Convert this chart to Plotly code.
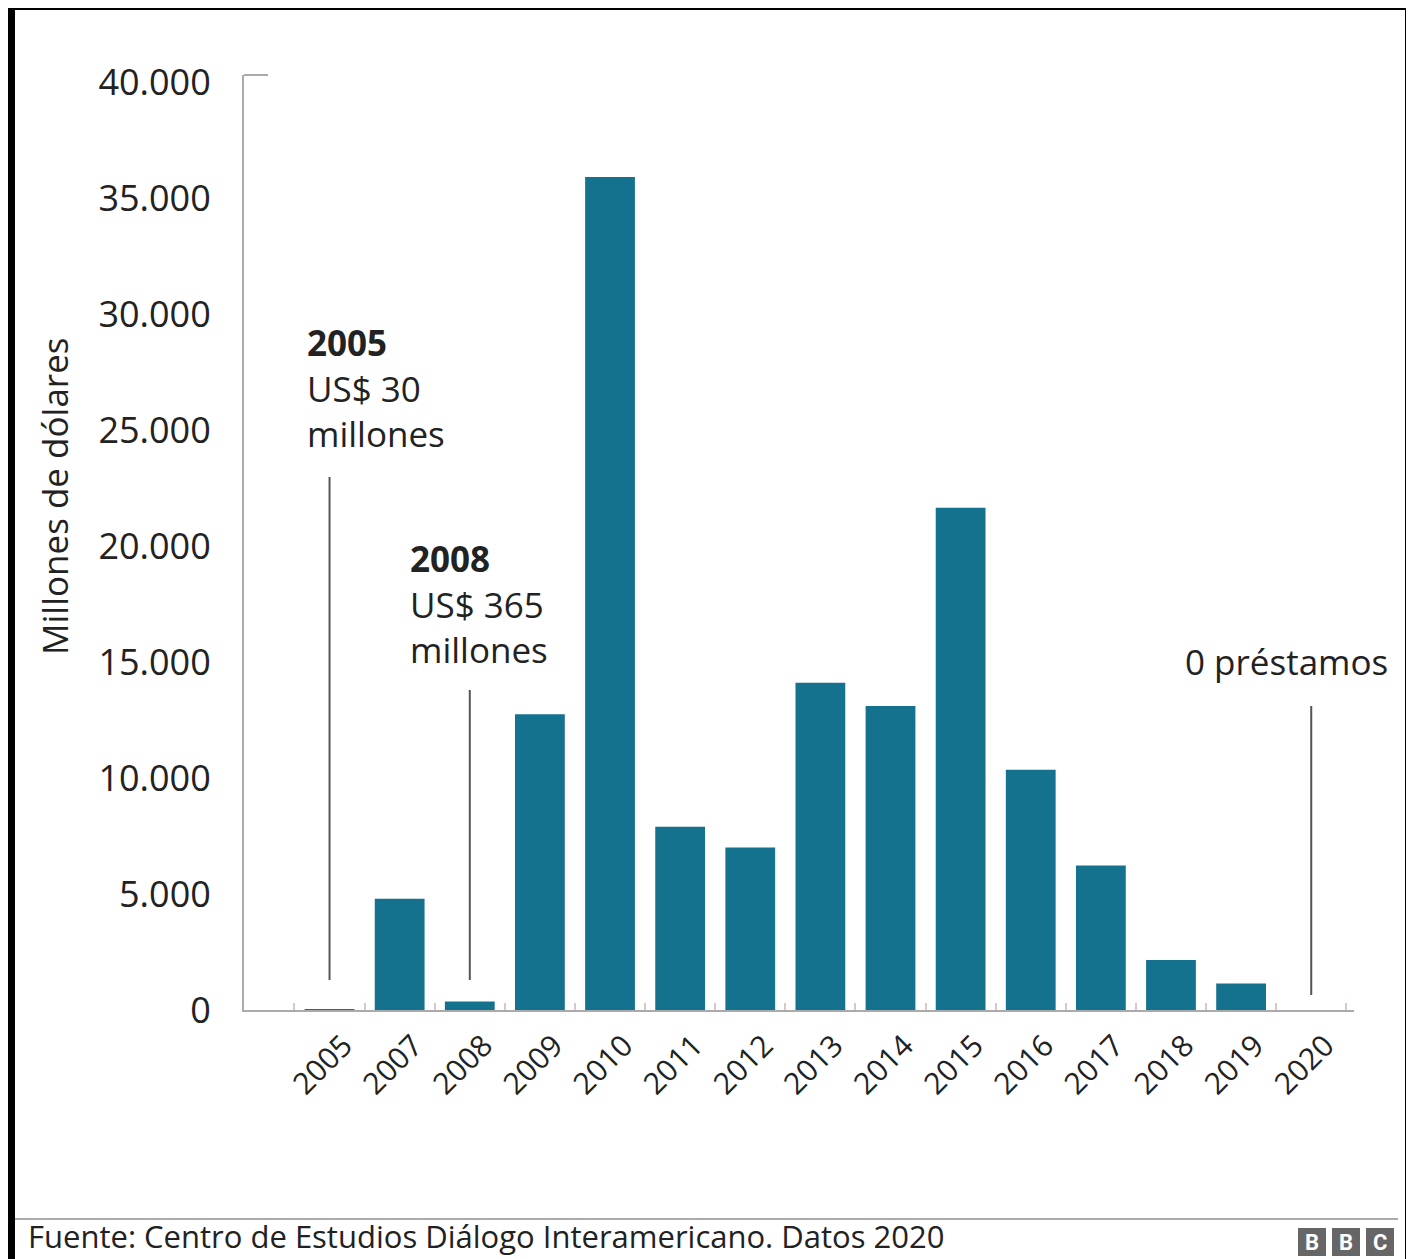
import plotly.graph_objects as go

years = ["2005", "2007", "2008", "2009", "2010", "2011", "2012", "2013",
         "2014", "2015", "2016", "2017", "2018", "2019", "2020"]
loans = [30, 4800, 365, 12750, 35900, 7900, 7000, 14100,
         13100, 21650, 10350, 6230, 2150, 1140, 0]
y_ticks = [0, 5000, 10000, 15000, 20000, 25000, 30000, 35000, 40000]

OFF = 8  # page body margin
W, H = 1414 - OFF, 1259 - OFF
L, R, T, B = 244, 1354, 75, 1010  # plot area in screen pixels


def px(x):
    return (x - L) / (R - L)


def py(y):
    return (B - y) / (B - T)


FONT = "Open Sans, Noto Sans, sans-serif"
TXT = "#222222"
BAR = "#15728f"

fig = go.Figure(go.Bar(
    x=years, y=loans, marker=dict(color=BAR, line=dict(width=0)),
    width=0.71, hoverinfo="x+y"))

shapes = []
# annotation leader lines (at category positions)
for yr, y0, y1 in [("2005", 477, 980), ("2008", 690, 980), ("2020", 706, 995)]:
    xi = years.index(yr)
    shapes.append(dict(type="line", xref="x", yref="paper", x0=xi, x1=xi,
                       y0=py(y0), y1=py(y1), line=dict(color="#555555", width=2)))
# top tick of y axis
shapes.append(dict(type="line", xref="paper", yref="paper", x0=px(244), x1=px(268),
                   y0=py(75), y1=py(75), line=dict(color="#aaaaaa", width=2)))
# separator above source
shapes.append(dict(type="line", xref="paper", yref="paper", x0=px(15), x1=px(1398),
                   y0=py(1219), y1=py(1219), line=dict(color="#aaaaaa", width=2)))
# black frame
for x0, x1, y0, y1 in [(8, 15, 5, 1265), (8, 1412, 5, 10), (1405, 1412, 5, 1265)]:
    shapes.append(dict(type="rect", xref="paper", yref="paper", x0=px(x0), x1=px(x1),
                       y0=py(y0), y1=py(y1), fillcolor="black", line=dict(width=0)))
# BBC blocks
annotations = []
for i, letter in enumerate("BBC"):
    bx0 = 1298 + i * 34
    shapes.append(dict(type="rect", xref="paper", yref="paper", x0=px(bx0), x1=px(bx0 + 28),
                       y0=py(1228), y1=py(1256), fillcolor="#666666", line=dict(width=0)))
    annotations.append(dict(xref="paper", yref="paper", x=px(bx0 + 14), y=py(1242),
                            text="<b>%s</b>" % letter, showarrow=False,
                            font=dict(family="Roboto, sans-serif", size=22, color="white"),
                            xanchor="center", yanchor="middle"))

annotations += [
    dict(xref="paper", yref="paper", x=px(305), y=py(388),
         text="<b>2005</b><br>US$ 30<br>millones", showarrow=False, align="left",
         xanchor="left", yanchor="middle", font=dict(family=FONT, size=35, color=TXT)),
    dict(xref="paper", yref="paper", x=px(408), y=py(604),
         text="<b>2008</b><br>US$ 365<br>millones", showarrow=False, align="left",
         xanchor="left", yanchor="middle", font=dict(family=FONT, size=35, color=TXT)),
    dict(xref="paper", yref="paper", x=px(1390), y=py(661),
         text="0 préstamos", showarrow=False, xanchor="right", yanchor="middle",
         font=dict(family=FONT, size=35, color=TXT)),
    dict(xref="paper", yref="paper", x=px(55), y=py(497),
         text="Millones de dólares", showarrow=False, textangle=-90,
         xanchor="center", yanchor="middle", font=dict(family=FONT, size=35, color=TXT)),
    dict(xref="paper", yref="paper", x=px(26), y=py(1236),
         text="Fuente: Centro de Estudios Diálogo Interamericano. Datos 2020",
         showarrow=False, xanchor="left", yanchor="middle",
         font=dict(family=FONT, size=31, color=TXT)),
]

fig.update_layout(
    width=W, height=H,
    margin=dict(l=L - OFF, r=W - (R - OFF), t=T - OFF, b=H - (B - OFF), autoexpand=False),
    paper_bgcolor="white", plot_bgcolor="white",
    separators=",.",
    showlegend=False,
    shapes=shapes, annotations=annotations,
    font=dict(family=FONT, color=TXT),
    xaxis=dict(
        type="category", range=[-1.22, 14.61], showgrid=False, zeroline=False,
        showline=True, linecolor="#aaaaaa", linewidth=2,
        ticks="inside", tickson="boundaries", ticklen=7, tickcolor="#d8c8c8", tickwidth=1.5,
        tickangle=-45, tickfont=dict(family=FONT, size=30, color=TXT),
        ticklabelstandoff=4, ticklabelshift=14,
    ),
    yaxis=dict(
        range=[0, 40300], showgrid=False, zeroline=False,
        showline=True, linecolor="#aaaaaa", linewidth=2,
        tickvals=y_ticks, tickformat=",d", ticks="",
        tickfont=dict(family=FONT, size=36, color=TXT),
        ticklabelstandoff=24,
    ),
    bargap=0.29,
)

fig.write_html("out.html")
